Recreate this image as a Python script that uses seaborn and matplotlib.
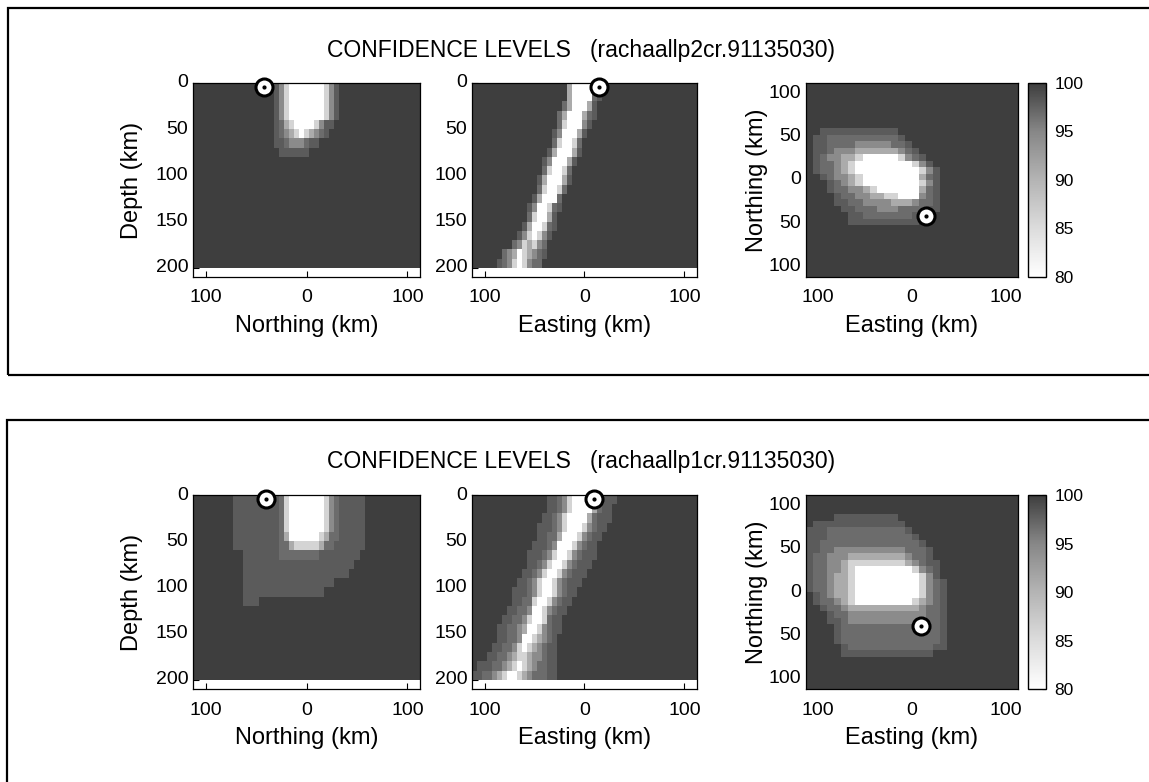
import numpy as np
import pandas as pd
import matplotlib
matplotlib.use("Agg")
import matplotlib.pyplot as plt
from matplotlib.colors import LinearSegmentedColormap
from matplotlib.patches import Rectangle
import seaborn as sns

# ---------------- data ----------------
# confidence level codes used in the grids below
LEVEL_CODES = [".", "2", "3", "4", "5", "6", "w"]
LEVEL_VALUES = [100, 98, 96.8, 94.5, 91, 86, 80]

CBAR_TICKS = [80, 85, 90, 95, 100]
CMAP_STOPS = [80, 85, 90, 95, 100]
CMAP_GREYS = [255, 220, 180, 135, 62]

TITLES = ["CONFIDENCE LEVELS   (rachaallp2cr.91135030)",
          "CONFIDENCE LEVELS   (rachaallp1cr.91135030)"]

DEPTH_TICKS = [0, 50, 100, 150, 200]
DEPTH_TICK_LABELS = ["0", "50", "100", "150", "200"]
H_TICKS = [-100, 0, 100]
H_TICK_LABELS = ["100", "0", "100"]
N_TICKS = [100, 50, 0, -50, -100]
N_TICK_LABELS = ["100", "50", "0", "50", "100"]

# grid geometry (km)
EXTENT = 112.5
SEC_DX, SEC_DZ = 5.0, 10.0       # cross-section cells
SEC_NCOL, SEC_NROW = 45, 20
MAP_D = 7.5                       # map cells
MAP_N = 30
DEPTH_AXIS = 210

# event locations: (horizontal km, depth km) for sections, (E, N) for map
TOP_EVENT_NS = (-42, 4)
TOP_EVENT_EW = (15, 4)
TOP_EVENT_MAP = (15, -42)
BOT_EVENT_NS = (-40, 4)
BOT_EVENT_EW = (10, 4)
BOT_EVENT_MAP = (10, -39)

# grids: row -> (first column, run of level codes); other cells are 100
TOP_NS = {
    0: (16, "246wwwwwww642"),
    1: (16, "246wwwwwww642"),
    2: (16, "246wwwwwww642"),
    3: (16, "246wwwwwww642"),
    4: (16, "2356wwww6422"),
    5: (16, "23456w65432"),
    6: (16, "223444322"),
    7: (17, "222222"),
}
TOP_EW = {
    0: (19, "5wwww42"),
    1: (19, "5wwww32"),
    2: (18, "35www52"),
    3: (17, "35www532"),
    4: (17, "36www42"),
    5: (16, "24www52"),
    6: (16, "36ww63"),
    7: (15, "25www52"),
    8: (14, "24www52"),
    9: (14, "36ww63"),
    10: (13, "25www52"),
    11: (13, "36ww63"),
    12: (12, "25www3"),
    13: (11, "24ww632"),
    14: (11, "36ww52"),
    15: (10, "25ww632"),
    16: (9, "246w642"),
    17: (8, "3465643"),
    18: (6, "345w65432"),
    19: (5, "2346w6433"),
}
TOP_MAP = {
    7: (2, "22222222222"),
    8: (1, "2233333333332"),
    9: (1, "22333344444332"),
    10: (1, "223444555555432"),
    11: (1, "2344556wwwww6432"),
    12: (1, "233456wwwwwwww642"),
    13: (1, "233456wwwwwwwww642"),
    14: (2, "234456wwwwwwww532"),
    15: (3, "23456wwwwwwww642"),
    16: (3, "2334456wwwwww532"),
    17: (4, "233445566www432"),
    18: (4, "223344445554332"),
    19: (5, "22333444333322"),
    20: (6, "223333333222"),
    21: (6, "2222222222"),
}
BOT_NS = {
    0: (8, "22222222236wwwwwww64322222"),
    1: (8, "22222222236wwwwwww64322222"),
    2: (8, "22222222236wwwwwww64322222"),
    3: (8, "22222222236wwwwwww64322222"),
    4: (8, "22222222235wwwwww653322222"),
    5: (8, "22222222233566666533222222"),
    6: (10, "22222223333333322222222"),
    7: (10, "2222222222222222222222"),
    8: (10, "222222222222222222222"),
    9: (10, "222222222222222222"),
    10: (10, "2222222222222222"),
    11: (10, "222"),
}
BOT_EW = {
    0: (15, "22346wwww53222"),
    1: (15, "22346wwww5322"),
    2: (14, "22346wwww53222"),
    3: (13, "222346www64322"),
    4: (13, "22335www64322"),
    5: (12, "22234www64322"),
    6: (11, "222346ww643222"),
    7: (11, "22346ww643222"),
    8: (10, "22346ww643222"),
    9: (9, "22346ww643222"),
    10: (8, "222346ww64322"),
    11: (8, "22336ww64322"),
    12: (7, "22334ww64322"),
    13: (6, "223346ww6322"),
    14: (5, "223345ww64322"),
    15: (5, "22334ww65432"),
    16: (4, "223346w654322"),
    17: (3, "22334566544322"),
    18: (1, "22233456w6543322"),
    19: (0, "2233456ww65433322"),
}
BOT_MAP = {
    3: (4, "222222222"),
    4: (1, "2222222222222"),
    5: (0, "222333333333332"),
    6: (0, "2223333333333332"),
    7: (0, "22333333333333332"),
    8: (0, "223344444444443332"),
    9: (0, "233444555555554332"),
    10: (0, "2334456666666654322"),
    11: (0, "2334456wwwwwwww6432"),
    12: (0, "2334556wwwwwwwww642"),
    13: (0, "2334556wwwwwwwww6432"),
    14: (0, "2334556wwwwwwwww6432"),
    15: (1, "234556wwwwwwwww6432"),
    16: (1, "233456wwwwwwww65432"),
    17: (2, "233455555555554332"),
    18: (3, "23344444444444332"),
    19: (3, "22344444444443332"),
    20: (4, "2333333333333332"),
    21: (4, "2333333333333332"),
    22: (4, "2333333333333332"),
    23: (5, "233333333333322"),
    24: (5, "2222222222222"),
}

# ---------------- helpers ----------------
CODE_VALUE = dict(zip(LEVEL_CODES, LEVEL_VALUES))


def build_grid(rows, nrow, ncol):
    grid = np.full((nrow, ncol), float(LEVEL_VALUES[0]))
    for r, (start, run) in rows.items():
        for j, ch in enumerate(run):
            grid[r, start + j] = CODE_VALUE[ch]
    return pd.DataFrame(grid)


def sec_x(km):
    return (km + EXTENT) / SEC_DX


def sec_z(depth):
    return depth / SEC_DZ


def map_x(e):
    return (e + EXTENT) / MAP_D


def map_y(n):
    return (EXTENT - n) / MAP_D


sns.set_style("white")
plt.rcParams["font.family"] = ["Liberation Sans", "DejaVu Sans"]
plt.rcParams["text.color"] = "black"
plt.rcParams["axes.labelcolor"] = "black"
plt.rcParams["xtick.color"] = "black"
plt.rcParams["ytick.color"] = "black"

cmap = LinearSegmentedColormap.from_list(
    "conf",
    [((v - 80) / 20.0, (g / 255.0,) * 3) for v, g in zip(CMAP_STOPS, CMAP_GREYS)])

W, H = 1149, 782
fig = plt.figure(figsize=(W / 100, H / 100), dpi=100)

# frames
fig.add_artist(Rectangle((8 / W, (H - 375) / H), (1250 - 8) / W, (375 - 8) / H,
                         transform=fig.transFigure, fill=False, lw=1.6, ec="black"))
fig.add_artist(Rectangle((7 / W, -0.2), (1250 - 7) / W, (H - 420) / H + 0.2,
                         transform=fig.transFigure, fill=False, lw=1.6, ec="black"))

ROWS = [(0.6458, TITLES[0], TOP_NS, TOP_EW, TOP_MAP, TOP_EVENT_NS, TOP_EVENT_EW, TOP_EVENT_MAP, 50),
        (0.1189, TITLES[1], BOT_NS, BOT_EW, BOT_MAP, BOT_EVENT_NS, BOT_EVENT_EW, BOT_EVENT_MAP, 462)]
AX_H = 0.2481
TICK_FS = 14
LABEL_FS = 17


def style_axes(ax):
    for sp in ax.spines.values():
        sp.set_visible(True)
        sp.set_color("black")
        sp.set_linewidth(0.9)
    ax.tick_params(axis="both", which="both", direction="in", length=4, width=0.8,
                   bottom=True, left=True, top=False, right=False,
                   labelsize=TICK_FS, colors="black")
    ax.tick_params(axis="x", pad=9)
    ax.tick_params(axis="y", pad=3.5)


def event(ax, x, y):
    ax.scatter([x], [y], s=150, c="white", edgecolors="black", linewidths=2.2,
               zorder=10, clip_on=False)
    ax.scatter([x], [y], s=4, c="black", zorder=11, clip_on=False)


for (bottom, title, g_ns, g_ew, g_map, ev_ns, ev_ew, ev_map, ty) in ROWS:
    fig.text(581 / W, 1 - ty / H, title, ha="center", va="center", fontsize=16.5,
             color="black")

    # Northing-depth section
    ax1 = fig.add_axes([0.1680, bottom, 0.1976, AX_H])
    sns.heatmap(build_grid(g_ns, SEC_NROW, SEC_NCOL), ax=ax1, cmap=cmap, vmin=80, vmax=100,
                cbar=False, xticklabels=False, yticklabels=False)
    ax1.set_xlim(0, SEC_NCOL)
    ax1.set_ylim(sec_z(DEPTH_AXIS), 0)
    style_axes(ax1)
    ax1.set_xticks([sec_x(v) for v in H_TICKS])
    ax1.set_xticklabels(H_TICK_LABELS)
    ax1.set_yticks([sec_z(v) for v in DEPTH_TICKS])
    ax1.set_yticklabels(DEPTH_TICK_LABELS, rotation=0, va="center")
    ax1.set_xlabel("Northing (km)", fontsize=LABEL_FS)
    ax1.set_ylabel("Depth (km)", fontsize=LABEL_FS)
    ax1.xaxis.set_label_coords(0.5, -0.196)
    ax1.yaxis.set_label_coords(-0.22, 0.5)
    event(ax1, sec_x(ev_ns[0]), sec_z(ev_ns[1]))

    # Easting-depth section
    ax2 = fig.add_axes([0.4108, bottom, 0.1958, AX_H])
    sns.heatmap(build_grid(g_ew, SEC_NROW, SEC_NCOL), ax=ax2, cmap=cmap, vmin=80, vmax=100,
                cbar=False, xticklabels=False, yticklabels=False)
    ax2.set_xlim(0, SEC_NCOL)
    ax2.set_ylim(sec_z(DEPTH_AXIS), 0)
    style_axes(ax2)
    ax2.set_xticks([sec_x(v) for v in H_TICKS])
    ax2.set_xticklabels(H_TICK_LABELS)
    ax2.set_yticks([sec_z(v) for v in DEPTH_TICKS])
    ax2.set_yticklabels(DEPTH_TICK_LABELS, rotation=0, va="center")
    ax2.set_xlabel("Easting (km)", fontsize=LABEL_FS)
    ax2.set_ylabel("")
    ax2.xaxis.set_label_coords(0.5, -0.196)
    event(ax2, sec_x(ev_ew[0]), sec_z(ev_ew[1]))

    # map view
    ax3 = fig.add_axes([0.7015, bottom, 0.1845, AX_H])
    sns.heatmap(build_grid(g_map, MAP_N, MAP_N), ax=ax3, cmap=cmap, vmin=80, vmax=100,
                cbar=False, xticklabels=False, yticklabels=False)
    ax3.set_xlim(0, MAP_N)
    ax3.set_ylim(MAP_N, 0)
    style_axes(ax3)
    ax3.set_xticks([map_x(v) for v in H_TICKS])
    ax3.set_xticklabels(H_TICK_LABELS)
    ax3.set_yticks([map_y(v) for v in N_TICKS])
    ax3.set_yticklabels(N_TICK_LABELS, rotation=0, va="center")
    ax3.set_xlabel("Easting (km)", fontsize=LABEL_FS)
    ax3.set_ylabel("Northing (km)", fontsize=LABEL_FS)
    ax3.xaxis.set_label_coords(0.5, -0.196)
    ax3.yaxis.set_label_coords(-0.18, 0.5)
    event(ax3, map_x(ev_map[0]), map_y(ev_map[1]))

    # colour bar
    cax = fig.add_axes([0.8947, bottom, 0.0157, AX_H])
    cb = fig.colorbar(ax3.collections[0], cax=cax, ticks=CBAR_TICKS)
    cb.outline.set_edgecolor("black")
    cb.outline.set_linewidth(1.0)
    cb.ax.tick_params(direction="in", length=3, width=0.8, labelsize=12.5, pad=6,
                      right=True, left=False, colors="black")

fig.savefig("out.png", dpi=100)
